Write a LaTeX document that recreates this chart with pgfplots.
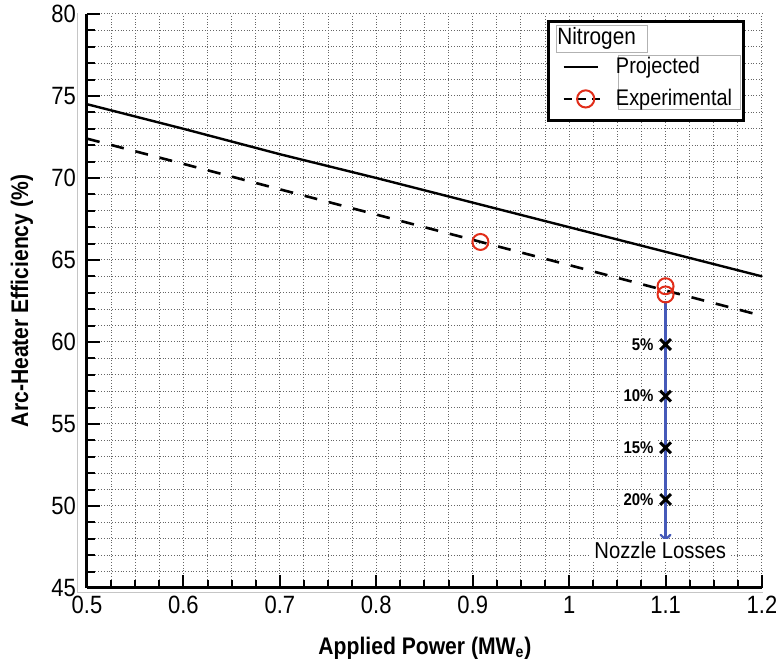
\documentclass[border=0pt]{standalone}
\usepackage{fontspec}
\setmainfont{Liberation Sans}[FakeStretch=0.88]
\usepackage{pgfplots}
\pgfplotsset{compat=1.18}
\usetikzlibrary{arrows.meta}
\definecolor{expred}{RGB}{225,45,25}
\definecolor{arrowblue}{RGB}{70,90,185}
\begin{document}
\begin{tikzpicture}
\useasboundingbox (-43.5pt,-40pt) rectangle (344.5pt,294pt);
\begin{axis}[
  at={(0,0)}, anchor=south west,
  scale only axis, width=337.5pt, height=287pt,
  xmin=0.5, xmax=1.2, ymin=45, ymax=80,
  xtick={0.5,0.6,...,1.21}, ytick={45,50,...,80},
  minor x tick num=3, minor y tick num=4,
  axis x line*=bottom, axis y line*=left,
  axis line style={line width=1.5pt},
  tick style={line width=1pt, black},
  major tick length=6.5pt, minor tick length=4pt,
  tick align=inside,
  grid=both,
  major grid style={densely dotted, gray!80!black, line width=0.5pt},
  minor grid style={densely dotted, gray!80!black, line width=0.5pt},
  /pgf/number format/assume math mode=true,
  ticklabel style={font=\fontsize{12.5}{14}\selectfont},
  yticklabel style={xshift=-2pt},
  xticklabel style={yshift=-0.5pt},
  xlabel={\textbf{Applied Power (MW\textsubscript{e})}},
  ylabel={\textbf{Arc-Heater Efficiency (\%)}},
  label style={font=\fontsize{12}{14}\selectfont},
  xlabel style={at={(axis description cs:0.5007,-0.1045)}, anchor=center},
  ylabel style={at={(axis description cs:-0.0963,0.5)}, anchor=center, rotate=0},
  clip=false,
  legend style={at={(axis description cs:0.7037,0.9268)}, anchor=north west,
    draw=none, fill=none, inner sep=0pt, column sep=3.5pt, row sep=5.5pt,
    font=\fontsize{11.3}{13}\selectfont,
    nodes={inner sep=0pt, text height=8.5pt, text depth=2pt}},
  legend cell align=left,
]
% light gray outer frame
\draw[gray!45, line width=0.5pt] (axis description cs:-0.0148,1.0017) -- (axis description cs:-0.0148,-0.0087) -- (axis description cs:1.0015,-0.0087);

% dashed experimental trend
\addplot[forget plot, black, line width=1.3pt, dash pattern=on 6.5pt off 6pt] coordinates {
(0.5,72.4) (0.6,70.86) (0.7,69.31) (0.8,67.77) (0.9,66.23) (1.0,64.69) (1.1,63.14) (1.2,61.6)};

% projected
\addplot[black, line width=1.2pt] coordinates {
(0.5,74.5) (0.6,73.0) (0.7,71.45) (0.8,70.0) (0.9,68.5) (1.0,67.0) (1.1,65.5) (1.2,64.0)};
\addlegendentry{Projected}

% experimental points
\addplot[only marks, mark=o, mark size=4pt, mark options={expred, line width=1pt},
  legend image code/.code={
    \draw[black, line width=1.3pt, dash pattern=on 4pt off 2.8pt on 4.5pt off 2.8pt on 4pt] (0pt,0pt) -- (22pt,0pt);
    \draw[expred, line width=1pt] (11pt,0pt) circle (4.3pt);
  }] coordinates {(0.908,66.1) (1.1,63.4) (1.1,62.9)};
\addlegendentry{Experimental}

% nozzle losses arrow
\draw[arrowblue, line width=1.1pt, -{To[length=5pt,width=6pt]}] (axis cs:1.1,62.5) -- (axis cs:1.1,47.7);

% loss markers
\addplot[only marks, mark=x, mark size=3.8pt, mark options={black, line width=1.5pt}] coordinates {
(1.1,59.85) (1.1,56.7) (1.1,53.55) (1.1,50.4)};
\node[anchor=east, fill=white, inner sep=1pt, font=\bfseries\fontsize{8.5}{10}\selectfont] at (axis cs:1.09,59.85) {5\%};
\node[anchor=east, fill=white, inner sep=1pt, font=\bfseries\fontsize{8.5}{10}\selectfont] at (axis cs:1.09,56.7) {10\%};
\node[anchor=east, fill=white, inner sep=1pt, font=\bfseries\fontsize{8.5}{10}\selectfont] at (axis cs:1.09,53.55) {15\%};
\node[anchor=east, fill=white, inner sep=1pt, font=\bfseries\fontsize{8.5}{10}\selectfont] at (axis cs:1.09,50.4) {20\%};
\node[fill=white, inner sep=1.5pt, font=\fontsize{11.5}{13}\selectfont] at (axis cs:1.0945,47.3) {Nozzle Losses};

% legend box
\fill[white] (axis description cs:0.6830,0.9861) rectangle (axis description cs:0.9733,0.8136);
\draw[gray!60, line width=0.4pt] (axis description cs:0.6948,0.9808) rectangle (axis description cs:0.8296,0.9338);
\draw[gray!60, line width=0.4pt] (axis description cs:0.7867,0.9286) rectangle (axis description cs:0.9674,0.8345);
\node[anchor=west, inner sep=0.5pt, font=\fontsize{11.8}{14}\selectfont] at (axis description cs:0.6948,0.9582) {Nitrogen};
\draw[black, line width=1.5pt] (axis description cs:0.6830,0.9861) rectangle (axis description cs:0.9733,0.8136);
\end{axis}
\end{tikzpicture}
\end{document}
